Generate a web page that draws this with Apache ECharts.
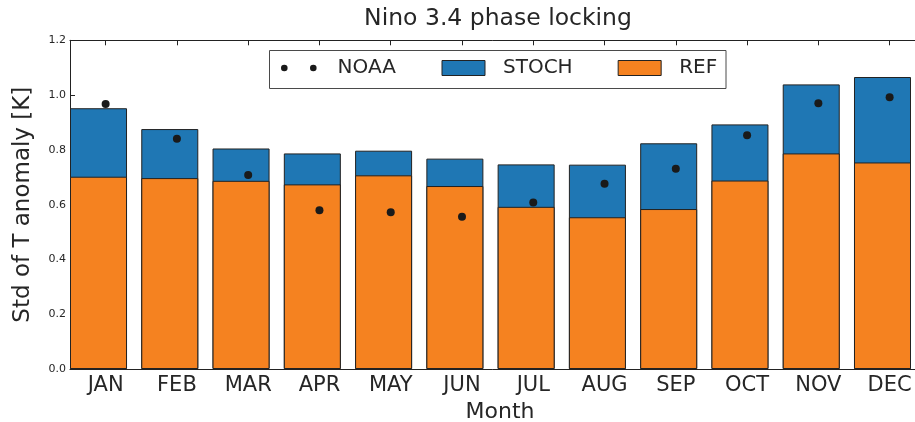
<!DOCTYPE html>
<html>
<head>
<meta charset="utf-8">
<script src="https://cdn.jsdelivr.net/npm/echarts@6/dist/echarts.min.js"></script>
<style>
  html, body { margin: 0; padding: 0; background: #fff; }
  #chart { width: 915px; height: 422px; }
</style>
</head>
<body>
<div id="chart"></div>
<script>
// Monthly standard deviation of Nino 3.4 temperature anomaly [K]
const months = ['JAN', 'FEB', 'MAR', 'APR', 'MAY', 'JUN', 'JUL', 'AUG', 'SEP', 'OCT', 'NOV', 'DEC'];
const noaa  = [0.967, 0.841, 0.708, 0.580, 0.572, 0.556, 0.608, 0.676, 0.731, 0.853, 0.970, 0.992];
const stoch = [0.952, 0.876, 0.805, 0.787, 0.797, 0.768, 0.747, 0.746, 0.824, 0.893, 1.039, 1.066];
const ref   = [0.702, 0.697, 0.687, 0.674, 0.707, 0.668, 0.592, 0.554, 0.584, 0.688, 0.787, 0.754];

// bars start at the month index and are 0.8 wide; ticks and dots sit at index + 0.5
const barX  = i => i + 0.4;
const tickX = i => i + 0.5;
const tickValues = months.map((m, i) => tickX(i));
const X_MAX = 11.87;   // the plot runs just past the right edge of the page

const FONT = 'DejaVu Sans';
const INK = '#262626';
const BLUE = '#1f77b4';
const ORANGE = '#f58220';
const EDGE = '#222222';

const chart = echarts.init(document.getElementById('chart'), null, { renderer: 'canvas' });

const tickLabel = v => months[Math.round(v - 0.5)];

chart.setOption({
  animation: false,
  backgroundColor: '#ffffff',
  textStyle: { fontFamily: FONT, color: INK },
  title: {
    text: 'Nino 3.4 phase locking',
    left: 498,
    top: 7,
    textAlign: 'center',
    padding: 0,
    textStyle: { fontFamily: FONT, fontSize: 23.5, fontWeight: 'normal', color: INK }
  },
  grid: { left: 70, top: 40.3, width: 846, height: 328.7, containLabel: false, outerBoundsMode: 'none' },
  legend: [
    {
      data: [{ name: 'NOAA', icon: 'path://M0,3.3a3.3,3.3 0 1,0 6.6,0a3.3,3.3 0 1,0 -6.6,0M29,3.3a3.3,3.3 0 1,0 6.6,0a3.3,3.3 0 1,0 -6.6,0Z' }],
      left: 281,
      top: 58,
      padding: 0,
      itemWidth: 35.6,
      itemHeight: 6.6,
      selectedMode: false,
      itemStyle: { color: '#1a1a1a', borderWidth: 0, opacity: 1 },
      textStyle: { fontFamily: FONT, fontSize: 20, color: INK, lineHeight: 20, padding: [0, 0, 0, 16] }
    },
    {
      data: [{ name: 'STOCH', icon: 'rect' }, { name: 'REF', icon: 'rect' }],
      left: 441.5,
      top: 58,
      padding: 0,
      itemWidth: 43,
      itemHeight: 15,
      itemGap: 45,
      selectedMode: false,
      itemStyle: { borderColor: EDGE, borderWidth: 1 },
      textStyle: { fontFamily: FONT, fontSize: 20, color: INK, lineHeight: 20, padding: [0, 0, 0, 13] }
    }
  ],
  graphic: [{
    type: 'rect',
    shape: { x: 269.5, y: 50.5, width: 456.5, height: 38 },
    style: { fill: 'none', stroke: '#4a4a4a', lineWidth: 1 },
    z: 100
  }],
  xAxis: [
    {
      type: 'value',
      min: 0,
      max: X_MAX,
      position: 'bottom',
      name: 'Month',
      nameLocation: 'middle',
      nameGap: 28,
      nameTextStyle: { fontFamily: FONT, fontSize: 22, color: INK, padding: [0, 0, 0, 14] },
      axisLine: { show: true, onZero: false, lineStyle: { color: EDGE, width: 1 } },
      axisTick: { show: true, inside: true, length: 5, customValues: tickValues, lineStyle: { color: EDGE } },
      axisLabel: { show: true, customValues: tickValues, formatter: tickLabel, margin: 6,
                   fontFamily: FONT, fontSize: 21, color: INK },
      splitLine: { show: false }
    },
    {
      type: 'value',
      min: 0,
      max: X_MAX,
      position: 'top',
      axisLine: { show: true, onZero: false, lineStyle: { color: EDGE, width: 1 } },
      axisTick: { show: true, inside: true, length: 5, customValues: tickValues, lineStyle: { color: EDGE } },
      axisLabel: { show: false },
      splitLine: { show: false }
    }
  ],
  yAxis: [
    {
      type: 'value',
      min: 0,
      max: 1.2,
      interval: 0.2,
      position: 'left',
      name: 'Std of T anomaly [K]',
      nameLocation: 'middle',
      nameGap: 35,
      nameRotate: 90,
      nameTextStyle: { fontFamily: FONT, fontSize: 23, color: INK },
      axisLine: { show: true, onZero: false, lineStyle: { color: EDGE, width: 1 } },
      axisTick: { show: true, inside: true, length: 5, lineStyle: { color: EDGE } },
      axisLabel: { show: true, margin: 4, fontFamily: FONT, fontSize: 11, color: INK,
                   formatter: v => v.toFixed(1) },
      splitLine: { show: false }
    }
  ],
  series: [
    {
      name: 'STOCH',
      type: 'bar',
      xAxisIndex: 0,
      yAxisIndex: 0,
      data: stoch.map((v, i) => [barX(i), v]),
      barWidth: '80%',
      barGap: '-100%',
      itemStyle: { color: BLUE, borderColor: EDGE, borderWidth: 1 },
      z: 2
    },
    {
      name: 'REF',
      type: 'bar',
      xAxisIndex: 0,
      yAxisIndex: 0,
      data: ref.map((v, i) => [barX(i), v]),
      barWidth: '80%',
      barGap: '-100%',
      itemStyle: { color: ORANGE, borderColor: EDGE, borderWidth: 1 },
      z: 3
    },
    {
      name: 'NOAA',
      type: 'scatter',
      xAxisIndex: 0,
      yAxisIndex: 0,
      data: noaa.map((v, i) => [tickX(i), v]),
      symbol: 'circle',
      symbolSize: 8,
      itemStyle: { color: '#1a1a1a', opacity: 1 },
      z: 5
    }
  ]
});
</script>
</body>
</html>
